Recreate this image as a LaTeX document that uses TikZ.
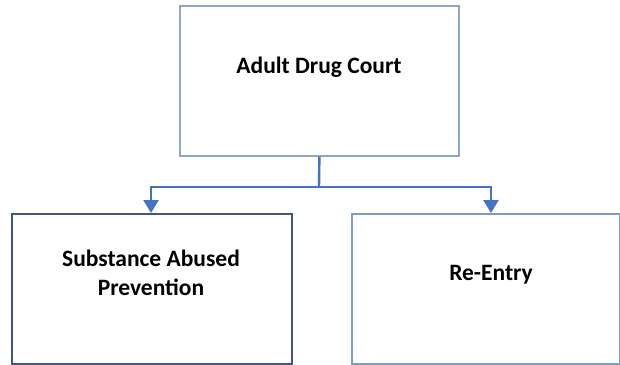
\documentclass[tikz,border=0pt]{standalone}
\usepackage{fontspec}
\setmainfont{Carlito}
\usetikzlibrary{arrows.meta}
\definecolor{boxA}{HTML}{8DA6C6}
\definecolor{boxB}{HTML}{43577E}
\definecolor{boxC}{HTML}{7F9BC0}
\definecolor{conn}{HTML}{4472C4}
\begin{document}
\begin{tikzpicture}[x=1pt,y=-1pt,
  box/.style={draw=#1,line width=1.8pt,fill=white,inner sep=0pt,anchor=north west},
  lbl/.style={font=\bfseries\fontsize{23.5}{29}\selectfont,align=center,text=black},
  conline/.style={draw=conn,line width=2.4pt},
  arr/.style={conline,-{Triangle[width=15pt,length=13pt]}}]
\useasboundingbox (0,0) rectangle (620,364);
\node[box=boxA,minimum width=279pt,minimum height=150pt] (top) at (179,5) {};
\node[box=boxB,minimum width=280pt,minimum height=150pt] (left) at (11,213) {};
\node[box=boxC,minimum width=268pt,minimum height=150pt] (right) at (351,213) {};
\node[lbl] (ttop) at (319,67) {Adult Drug Court};
\node[lbl] (tleft) at (151,273) {Substance Abused\\Prevention};
\node[lbl] (tright) at (491,275) {Re-Entry};
\coordinate (j) at (319,187);
\coordinate (jl) at (151,187);
\coordinate (jr) at (491,187);
\draw[conline] (top.south) -- (j);
\draw[arr] (j) -- (jl) -- (jl |- left.north);
\draw[arr] (j) -- (jr) -- (jr |- right.north);
\end{tikzpicture}
\end{document}
